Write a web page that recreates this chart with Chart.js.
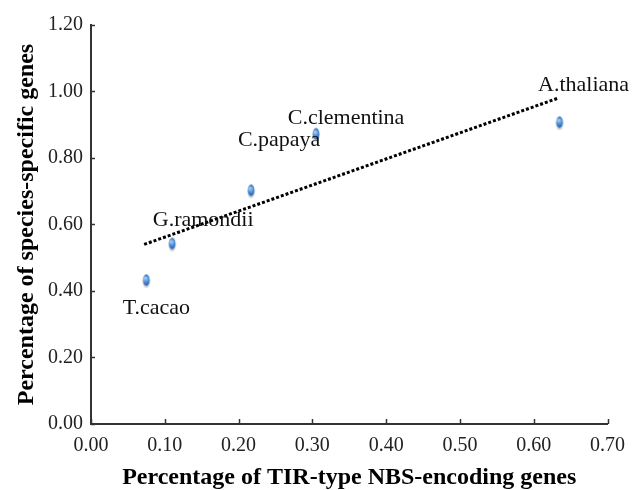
<!DOCTYPE html>
<html>
<head>
<meta charset="utf-8">
<script src="https://cdn.jsdelivr.net/npm/chart.js@4.4.1/dist/chart.umd.min.js"></script>
<style>
  html, body { margin: 0; padding: 0; background: #fff; }
  #wrap { width: 635px; height: 490px; }
</style>
</head>
<body>
<div id="wrap"><canvas id="scatterChart" width="635" height="490"></canvas></div>
<script>
// data
var species = ['T.cacao', 'G.ramondii', 'C.papaya', 'C.clementina', 'A.thaliana'];
var tirPct = [0.075, 0.11, 0.217, 0.305, 0.635];
var specificPct = [0.43, 0.54, 0.70, 0.87, 0.905];
// dotted trend line, ends
var trendX = [0.072, 0.633];
var trendY = [0.54, 0.98];
// axes
var xMin = 0, xMax = 0.7, xStep = 0.1;
var yMin = 0, yMax = 1.2, yStep = 0.2;

var FONT = '"Liberation Serif", "Times New Roman", serif';

// small glossy blue marker like the original
var makeMarker = function() {
    var c = document.createElement('canvas');
    c.width = 10;
    c.height = 16;
    var g = c.getContext('2d');
    g.fillStyle = 'rgba(0,0,0,0.18)';
    g.beginPath();
    g.ellipse(5, 9, 3.6, 6, 0, 0, Math.PI * 2);
    g.fill();
    var grd = g.createRadialGradient(4, 5, 0.5, 5, 7, 6);
    grd.addColorStop(0, '#a9cdf2');
    grd.addColorStop(0.45, '#4f8fd6');
    grd.addColorStop(1, '#1f58a8');
    g.fillStyle = grd;
    g.beginPath();
    g.ellipse(5, 7, 3.4, 5.8, 0, 0, Math.PI * 2);
    g.fill();
    return c;
};

// label offsets from their point (pixels)
var labelOffsets = {
    'T.cacao': [10, 27],
    'G.ramondii': [31, -24],
    'C.papaya': [28, -51],
    'C.clementina': [30, -17],
    'A.thaliana': [24, -38]
};

var extrasPlugin = {
    id: 'extras',
    afterDraw: function(chart) {
        var ctx = chart.ctx;
        var xs = chart.scales.x, ys = chart.scales.y;
        var area = chart.chartArea;
        ctx.save();
        // inward tick marks
        ctx.strokeStyle = '#333';
        ctx.lineWidth = 1.5;
        var v;
        for (v = xMin; v <= xMax + 1e-9; v += xStep) {
            var px = Math.round(xs.getPixelForValue(v)) + 0.5;
            ctx.beginPath();
            ctx.moveTo(px, area.bottom);
            ctx.lineTo(px, area.bottom - 5);
            ctx.stroke();
        }
        for (v = yMin; v <= yMax + 1e-9; v += yStep) {
            var py = Math.round(ys.getPixelForValue(v)) + 0.5;
            ctx.beginPath();
            ctx.moveTo(area.left, py);
            ctx.lineTo(area.left + 4, py);
            ctx.stroke();
        }
        // species labels
        ctx.fillStyle = '#111';
        ctx.font = '22px ' + FONT;
        ctx.textAlign = 'center';
        ctx.textBaseline = 'middle';
        var meta = chart.getDatasetMeta(1);
        meta.data.forEach(function(pt, i) {
            var off = labelOffsets[species[i]];
            ctx.fillText(species[i], pt.x + off[0], pt.y + off[1]);
        });
        ctx.restore();
    }
};

var ctx = document.getElementById('scatterChart').getContext('2d');
var myChart = new Chart(ctx, {
    type: 'scatter',
    data: {
        datasets: [{
            type: 'line',
            label: 'trend',
            data: trendX.map(function(x, i) { return {x: x, y: trendY[i]}; }),
            borderColor: '#000',
            borderWidth: 3,
            borderDash: [3, 2],
            pointRadius: 0,
            fill: false
        }, {
            label: 'species',
            data: tirPct.map(function(x, i) { return {x: x, y: specificPct[i]}; }),
            pointStyle: makeMarker(),
            pointRadius: 6
        }]
    },
    options: {
        responsive: false,
        animation: false,
        layout: { padding: { left: 0, right: 24, top: 25, bottom: 0 } },
        plugins: {
            legend: { display: false },
            tooltip: { enabled: false }
        },
        scales: {
            x: {
                type: 'linear',
                min: xMin,
                max: xMax,
                afterFit: function(scale) { scale.height = 66; },
                ticks: {
                    stepSize: xStep,
                    padding: 10,
                    color: '#222',
                    font: { family: FONT, size: 20 },
                    callback: function(v) { return v.toFixed(2); }
                },
                grid: { display: false, drawTicks: false },
                border: { display: true, color: '#333', width: 2 },
                title: {
                    display: true,
                    text: 'Percentage of TIR-type NBS-encoding genes',
                    color: '#000',
                    font: { family: FONT, size: 24, weight: 'bold' },
                    padding: { top: 0, bottom: -2 }
                }
            },
            y: {
                type: 'linear',
                min: yMin,
                max: yMax,
                afterFit: function(scale) { scale.width = 91; },
                ticks: {
                    stepSize: yStep,
                    padding: 8,
                    color: '#222',
                    font: { family: FONT, size: 20 },
                    callback: function(v) { return v.toFixed(2); }
                },
                grid: { display: false, drawTicks: false },
                border: { display: true, color: '#333', width: 2 },
                title: {
                    display: true,
                    text: 'Percentage of species-specific genes',
                    color: '#000',
                    font: { family: FONT, size: 24, weight: 'bold' },
                    padding: { top: 12, bottom: 0 }
                }
            }
        }
    },
    plugins: [extrasPlugin]
});
</script>
</body>
</html>
